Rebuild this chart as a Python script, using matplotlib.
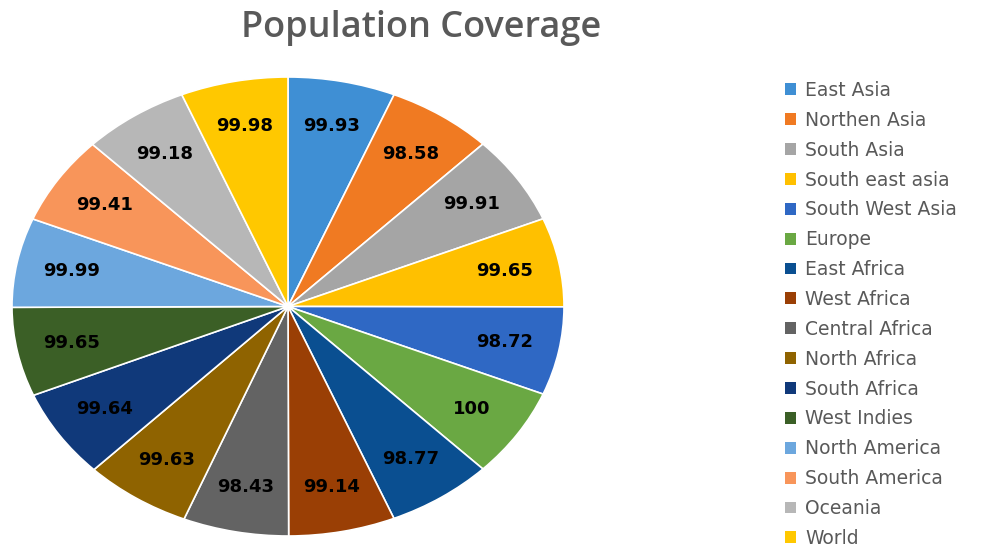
import numpy as np
import matplotlib
matplotlib.use("Agg")
import matplotlib.pyplot as plt
from matplotlib.patches import Patch

regions = ["East Asia", "Northen Asia", "South Asia", "South east asia", "South West Asia",
           "Europe", "East Africa", "West Africa", "Central Africa", "North Africa",
           "South Africa", "West Indies", "North America", "South America", "Oceania", "World"]
coverage = [99.93, 98.58, 99.91, 99.65, 98.72, 100, 98.77, 99.14, 98.43, 99.63,
            99.64, 99.65, 99.99, 99.41, 99.18, 99.98]
value_labels = ["99.93", "98.58", "99.91", "99.65", "98.72", "100", "98.77", "99.14",
                "98.43", "99.63", "99.64", "99.65", "99.99", "99.41", "99.18", "99.98"]
colors = ["#3f8fd4", "#f07a22", "#a5a5a5", "#ffc000", "#2f68c4", "#6aa843", "#0a4f91",
          "#9a3f05", "#636363", "#8f6300", "#10397a", "#3b5f26", "#6ca7de", "#f8955a",
          "#b7b7b7", "#ffc800"]

W, H = 987, 545
fig = plt.figure(figsize=(W / 100, H / 100), dpi=100)

# pie is stretched horizontally in the reference, so use a non-square axes
ax = fig.add_axes([12 / W, 9 / H, 552 / W, 459 / H])
wedges, _ = ax.pie(coverage, colors=colors, startangle=90, counterclock=False,
                   wedgeprops=dict(edgecolor="white", linewidth=1.2))
ax.set_aspect("auto")
ax.set_xlim(-1, 1)
ax.set_ylim(-1, 1)

for w, lab in zip(wedges, value_labels):
    mid = np.deg2rad((w.theta1 + w.theta2) / 2)
    ax.text(0.8 * np.cos(mid), 0.8 * np.sin(mid), lab, ha="center", va="center",
            fontsize=13, fontweight="bold", color="black", family="DejaVu Sans")

fig.text(421 / W, 1 - 28 / H, "Population Coverage", ha="center", va="center",
         fontsize=26, fontweight="semibold", color="#595959", family="Open Sans")

handles = [Patch(facecolor=c, edgecolor="none") for c in colors]
fig.legend(handles, regions, loc="upper left", bbox_to_anchor=(768 / W, 1 - 64 / H),
           frameon=False, labelcolor="#595959", handlelength=0.6,
           handleheight=0.6, handletextpad=0.5, labelspacing=0.58,
           prop={"family": "DejaVu Sans", "size": 13.5})

fig.savefig("out.png", dpi=100)
